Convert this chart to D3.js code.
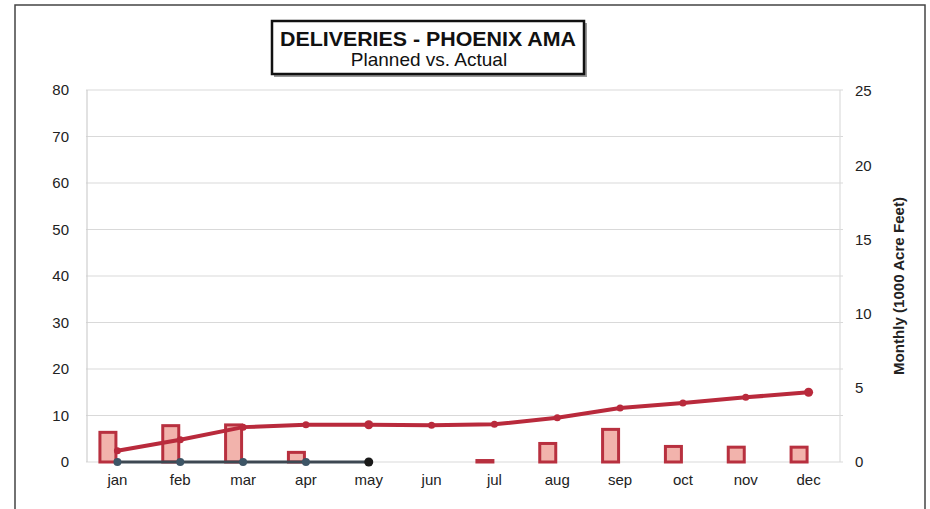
<!DOCTYPE html>
<html>
<head>
<meta charset="utf-8">
<script src="https://cdn.jsdelivr.net/npm/d3@7"></script>
<style>
  body { margin: 0; background: #fff; }
  svg { display: block; font-family: "Liberation Sans", Arial, sans-serif; }
</style>
</head>
<body>
<div id="chart"></div>
<script>
// data
const months = ["jan", "feb", "mar", "apr", "may", "jun", "jul", "aug", "sep", "oct", "nov", "dec"];
const monthlyPlanned = [2.1, 2.55, 2.6, 0.75, 0, 0, 0.2, 1.35, 2.3, 1.15, 1.1, 1.1];
const cumulativePlanned = [2.4, 4.8, 7.5, 8.0, 8.0, 7.9, 8.1, 9.5, 11.6, 12.7, 13.9, 15.0];
const actualMonths = ["jan", "feb", "mar", "apr", "may"];
const cumulativeActual = [0, 0, 0, 0, 0];
const leftTicks = [0, 10, 20, 30, 40, 50, 60, 70, 80];
const rightTicks = [0, 5, 10, 15, 20, 25];

const width = 930, height = 509;
const plot = { left: 86, right: 840, top: 90, bottom: 462 };

const svg = d3.select("#chart").append("svg")
  .attr("width", width)
  .attr("height", height);

// outer frame
svg.append("rect")
  .attr("x", 15).attr("y", 5)
  .attr("width", 910).attr("height", 520)
  .attr("fill", "#fff")
  .attr("stroke", "#444")
  .attr("stroke-width", 1.5);

const x = d3.scaleBand().domain(months).range([plot.left, plot.right]).padding(0);
const yL = d3.scaleLinear().domain([0, 80]).range([plot.bottom, plot.top]);
const yR = d3.scaleLinear().domain([0, 25]).range([plot.bottom, plot.top + 1]);
const inner = d3.scaleBand().domain(["planned", "actual"])
  .range([x.bandwidth() / 2 - 19, x.bandwidth() / 2 + 19]);

// gridlines
svg.append("g").selectAll("line")
  .data(leftTicks)
  .join("line")
  .attr("x1", plot.left).attr("x2", plot.right + 3)
  .attr("y1", d => yL(d)).attr("y2", d => yL(d))
  .attr("stroke", "#d9d9d9")
  .attr("stroke-width", 1.2);

svg.append("line")
  .attr("x1", plot.left + 1).attr("x2", plot.left + 1)
  .attr("y1", plot.top).attr("y2", plot.bottom)
  .attr("stroke", "#cfcfcf").attr("stroke-width", 1.2);
svg.append("line")
  .attr("x1", plot.right).attr("x2", plot.right)
  .attr("y1", plot.top).attr("y2", plot.bottom)
  .attr("stroke", "#dcdcdc").attr("stroke-width", 1.2);

// left axis
const axisL = svg.append("g")
  .attr("transform", `translate(${plot.left - 17},0)`)
  .call(d3.axisLeft(yL).tickValues(leftTicks).tickSize(0).tickPadding(0));
axisL.select(".domain").remove();

// right axis
const axisR = svg.append("g")
  .attr("transform", `translate(${plot.right + 15},0)`)
  .call(d3.axisRight(yR).tickValues(rightTicks).tickSize(0).tickPadding(0));
axisR.select(".domain").remove();

// bottom axis
const axisB = svg.append("g")
  .attr("transform", `translate(0,${plot.bottom + 12})`)
  .call(d3.axisBottom(x).tickSize(0).tickPadding(0));
axisB.select(".domain").remove();
axisB.selectAll("text").attr("dy", "0.71em");

svg.selectAll(".tick text")
  .attr("font-family", "\"Liberation Sans\", Arial, sans-serif")
  .attr("font-size", 15)
  .attr("fill", "#222");

// right axis title
svg.append("text")
  .attr("transform", "translate(904,286) rotate(-90)")
  .attr("text-anchor", "middle")
  .attr("font-size", 14.5)
  .attr("font-weight", "bold")
  .attr("fill", "#222")
  .attr("textLength", 178)
  .attr("lengthAdjust", "spacingAndGlyphs")
  .text("Monthly (1000 Acre Feet)");

// monthly planned bars
svg.append("g").selectAll("rect")
  .data(monthlyPlanned.map((v, i) => ({ m: months[i], v })).filter(d => d.v > 0))
  .join("rect")
  .attr("x", d => x(d.m) + inner("planned") + 1.5)
  .attr("width", inner.bandwidth() - 3)
  .attr("y", d => yR(d.v) + 1.5)
  .attr("height", d => Math.max(0.5, yR(0) - yR(d.v) - 1.5))
  .attr("fill", "#f2b3ac")
  .attr("stroke", "#b8303f")
  .attr("stroke-width", 3);

// cumulative planned line
const linePlan = d3.line()
  .x((d, i) => x(months[i]) + x.bandwidth() / 2)
  .y(d => yL(d));

svg.append("path")
  .datum(cumulativePlanned)
  .attr("d", linePlan)
  .attr("fill", "none")
  .attr("stroke", "#b92a3c")
  .attr("stroke-width", 4)
  .attr("stroke-linejoin", "round");

svg.append("g").selectAll("circle")
  .data(cumulativePlanned)
  .join("circle")
  .attr("cx", (d, i) => x(months[i]) + x.bandwidth() / 2)
  .attr("cy", d => yL(d))
  .attr("r", (d, i) => (i === 4 || i === 11) ? 4.5 : 3.5)
  .attr("fill", "#b92a3c");

// cumulative actual line
const lineAct = d3.line()
  .x((d, i) => x(actualMonths[i]) + x.bandwidth() / 2)
  .y(d => yL(d));

svg.append("path")
  .datum(cumulativeActual)
  .attr("d", lineAct)
  .attr("fill", "none")
  .attr("stroke", "#3d4852")
  .attr("stroke-width", 3);

svg.append("g").selectAll("circle")
  .data(cumulativeActual)
  .join("circle")
  .attr("cx", (d, i) => x(actualMonths[i]) + x.bandwidth() / 2)
  .attr("cy", d => yL(d))
  .attr("r", (d, i) => i === actualMonths.length - 1 ? 4.5 : 4)
  .attr("fill", (d, i) => i === actualMonths.length - 1 ? "#1a1a1a" : "#3d5566");

// title box
svg.append("rect")
  .attr("x", 274).attr("y", 23)
  .attr("width", 313).attr("height", 54)
  .attr("fill", "#999");
svg.append("rect")
  .attr("x", 272).attr("y", 21)
  .attr("width", 312).attr("height", 53)
  .attr("fill", "#fff")
  .attr("stroke", "#111")
  .attr("stroke-width", 2.5);

svg.append("text")
  .attr("x", 428).attr("y", 46)
  .attr("text-anchor", "middle")
  .attr("font-size", 21)
  .attr("font-weight", "bold")
  .attr("fill", "#111")
  .attr("textLength", 296)
  .attr("lengthAdjust", "spacingAndGlyphs")
  .text("DELIVERIES - PHOENIX AMA");

svg.append("text")
  .attr("x", 429).attr("y", 66)
  .attr("text-anchor", "middle")
  .attr("font-size", 19)
  .attr("fill", "#111")
  .text("Planned vs. Actual");
</script>
</body>
</html>
